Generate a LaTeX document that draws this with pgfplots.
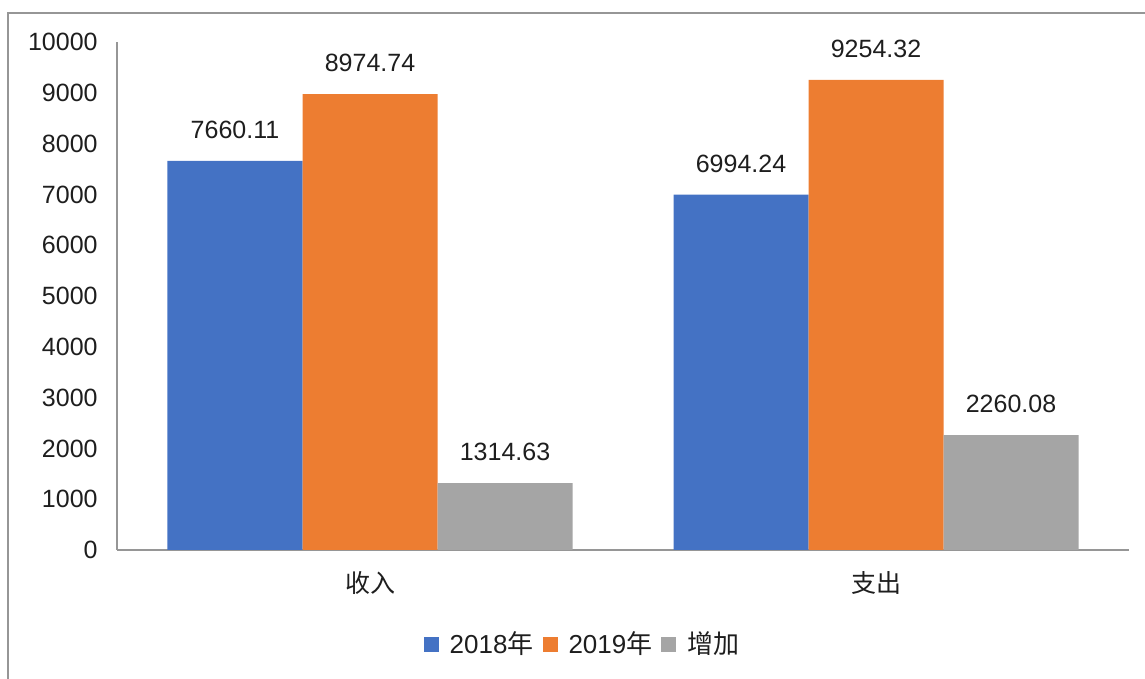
\documentclass[border=0pt]{standalone}
\usepackage{pgfplots}
\pgfplotsset{compat=1.18}
\usepackage{fontspec}
\setmainfont{Liberation Sans}
\newfontfamily\cjk{Noto Sans CJK SC}
\definecolor{cA}{HTML}{4472C4}
\definecolor{cB}{HTML}{ED7D31}
\definecolor{cC}{HTML}{A5A5A5}
\definecolor{axgray}{RGB}{150,150,150}
\definecolor{txt}{RGB}{30,30,30}
\begin{document}
\fontsize{12.5pt}{15pt}\selectfont
\begin{tikzpicture}[x=1pt,y=1pt]
\useasboundingbox (-58.5,-64.5) rectangle (514,275);
\draw[color=axgray, line width=0.8pt] (-54.5,-80) -- (-54.5,268.5) -- (530,268.5);
\begin{axis}[
  scale only axis,
  width=506pt, height=254pt,
  xmin=-0.5, xmax=1.5,
  ymin=0, ymax=10000,
  ytick={0,1000,...,10000},
  scaled y ticks=false,
  xtick={0,1},
  xticklabels={{\cjk 收入},{\cjk 支出}},
  axis x line*=bottom,
  axis y line*=left,
  axis line style={color=axgray, line width=0.75pt, -},
  major tick length=0pt,
  /pgf/number format/assume math mode=true,
  /pgf/number format/1000 sep={},
  yticklabel style={anchor=east, inner sep=0pt, xshift=-9.5pt, text=txt},
  xticklabel style={anchor=center, inner sep=0pt, yshift=-16.5pt, text=txt},
  ybar=0pt,
  bar width=67.5pt,
  point meta=explicit symbolic,
  nodes near coords,
  nodes near coords style={anchor=south, inner sep=0pt, yshift=11pt, text=txt},
  legend style={at={(axis description cs:0.459,-0.186)}, anchor=center, draw=none, fill=none,
    legend columns=-1, inner sep=0pt, font=\fontsize{13pt}{15pt}\selectfont,
    /tikz/every odd column/.append style={column sep=5.5pt},
    /tikz/every even column/.append style={column sep=4.5pt},
    nodes={inner sep=0pt, text=txt}},
  clip=false,
]
\addplot[fill=cA, draw=none, legend image code/.code={\fill[cA] (0pt,-3.75pt) rectangle (7.5pt,3.75pt);}] coordinates {(0,7660.11) [7660.11] (1,6994.24) [6994.24]};
\addplot[fill=cB, draw=none, legend image code/.code={\fill[cB] (0pt,-3.75pt) rectangle (7.5pt,3.75pt);}] coordinates {(0,8974.74) [8974.74] (1,9254.32) [9254.32]};
\addplot[fill=cC, draw=none, legend image code/.code={\fill[cC] (0pt,-3.75pt) rectangle (7.5pt,3.75pt);}] coordinates {(0,1314.63) [1314.63] (1,2260.08) [2260.08]};
\legend{2018{\cjk 年},2019{\cjk 年},{\cjk 增加}}
\end{axis}
\end{tikzpicture}
\end{document}
